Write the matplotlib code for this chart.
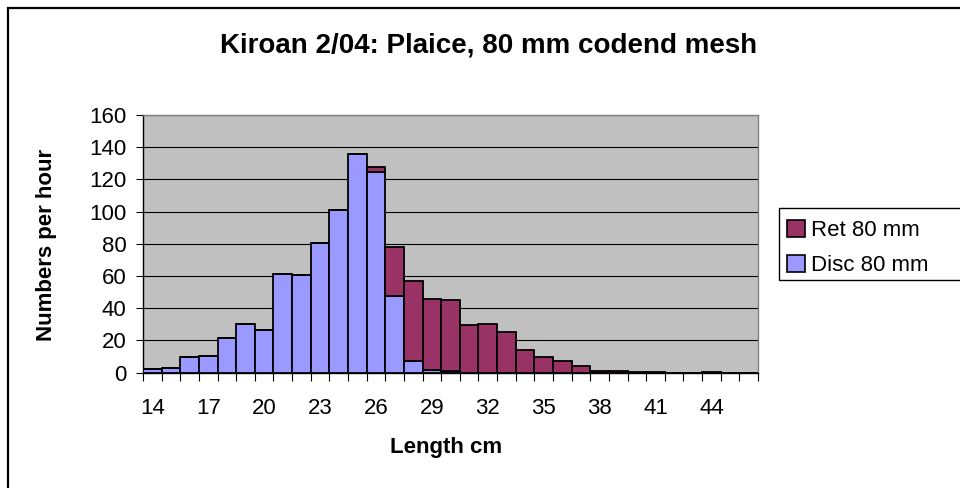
import matplotlib
matplotlib.use("Agg")
import matplotlib.pyplot as plt
from matplotlib.patches import Rectangle, Patch

plt.rcParams['font.family'] = ['Liberation Sans', 'DejaVu Sans']

lengths = list(range(14, 47))
disc_80 = [2, 3, 9.5, 10.5, 21.5, 30, 26.5, 61.5, 60.8, 80.5, 100.8, 135.8,
           124.8, 47.8, 7.5, 1.5, 1, 0, 0, 0, 0, 0, 0, 0, 0, 0, 0, 0, 0, 0, 0, 0, 0]
ret_80 = [0, 0, 0, 0, 0, 0, 0, 0, 0, 0, 0, 0,
          3, 30, 49.5, 44.5, 44, 29.5, 30.5, 25, 14, 9.5, 7, 4, 1, 0.8, 0.5, 0.2, 0, 0, 0.3, 0, 0]
label_ticks = [14, 17, 20, 23, 26, 29, 32, 35, 38, 41, 44]
y_ticks = [0, 20, 40, 60, 80, 100, 120, 140, 160]

W, H = 960, 488
fig = plt.figure(figsize=(W / 100, H / 100), dpi=100)

# outer chart border
fig.patches.append(Rectangle((8 / W, -0.1), 1.2, (480 / H) + 0.1, transform=fig.transFigure,
                             fill=False, edgecolor='black', linewidth=1.6, zorder=0))

ax = fig.add_axes([143 / W, (H - 372.7) / H, (758 - 143) / W, (372.7 - 115) / H])
ax.set_facecolor('#C0C0C0')

ax.bar(lengths, disc_80, width=1.0, color='#9999FF', edgecolor='black', linewidth=1.3,
       label='Disc 80 mm', zorder=3)
ax.bar(lengths, ret_80, width=1.0, bottom=disc_80, color='#993366', edgecolor='black',
       linewidth=1.3, label='Ret 80 mm', zorder=3)

ax.set_xlim(lengths[0] - 0.5, lengths[-1] + 0.5)
ax.set_ylim(0, 160)
ax.set_yticks(y_ticks)
ax.yaxis.grid(True, color='black', linewidth=0.8)
ax.set_axisbelow(True)

# major ticks at bar boundaries (no labels), labels at bar centres
ax.set_xticks([v - 0.5 for v in lengths] + [lengths[-1] + 0.5])
ax.set_xticklabels([])
ax.set_xticks(label_ticks, minor=True)
ax.set_xticklabels([str(v) for v in label_ticks], minor=True)
ax.tick_params(axis='x', which='major', length=6, width=0.8, direction='out', color='black')
ax.tick_params(axis='x', which='minor', length=0, pad=18, labelsize=16)
ax.tick_params(axis='y', length=5, width=0.8, direction='out', pad=7, labelsize=16)

for s in ['left', 'bottom']:
    ax.spines[s].set_color('black')
    ax.spines[s].set_linewidth(1.0)
for s in ['top', 'right']:
    ax.spines[s].set_color('#808080')
    ax.spines[s].set_linewidth(1.0)

fig.text(489 / W, 1 - 46 / H, 'Kiroan 2/04: Plaice, 80 mm codend mesh', ha='center', va='center',
         fontsize=20, fontweight='bold')
fig.text(47 / W, 1 - 245 / H, 'Numbers per hour', ha='center', va='center', rotation=90,
         fontsize=16, fontweight='bold')
fig.text(446 / W, 1 - 448 / H, 'Length cm', ha='center', va='center',
         fontsize=16, fontweight='bold')

# legend box
fig.patches.append(Rectangle((779 / W, 1 - 280 / H), 0.5, 72 / H, transform=fig.transFigure,
                             fill=True, facecolor='white', edgecolor='black', linewidth=1.0, zorder=1))
handles = [Patch(facecolor='#993366', edgecolor='black', linewidth=1.2, label='Ret 80 mm'),
           Patch(facecolor='#9999FF', edgecolor='black', linewidth=1.2, label='Disc 80 mm')]
leg = fig.legend(handles=handles, loc='upper left', bbox_to_anchor=(778 / W, 1 - 211 / H),
                 frameon=False, fontsize=16, handlelength=0.8, handleheight=0.8,
                 handletextpad=0.3, labelspacing=0.62, borderaxespad=0, borderpad=0.4)

fig.savefig('out.png', dpi=100)
